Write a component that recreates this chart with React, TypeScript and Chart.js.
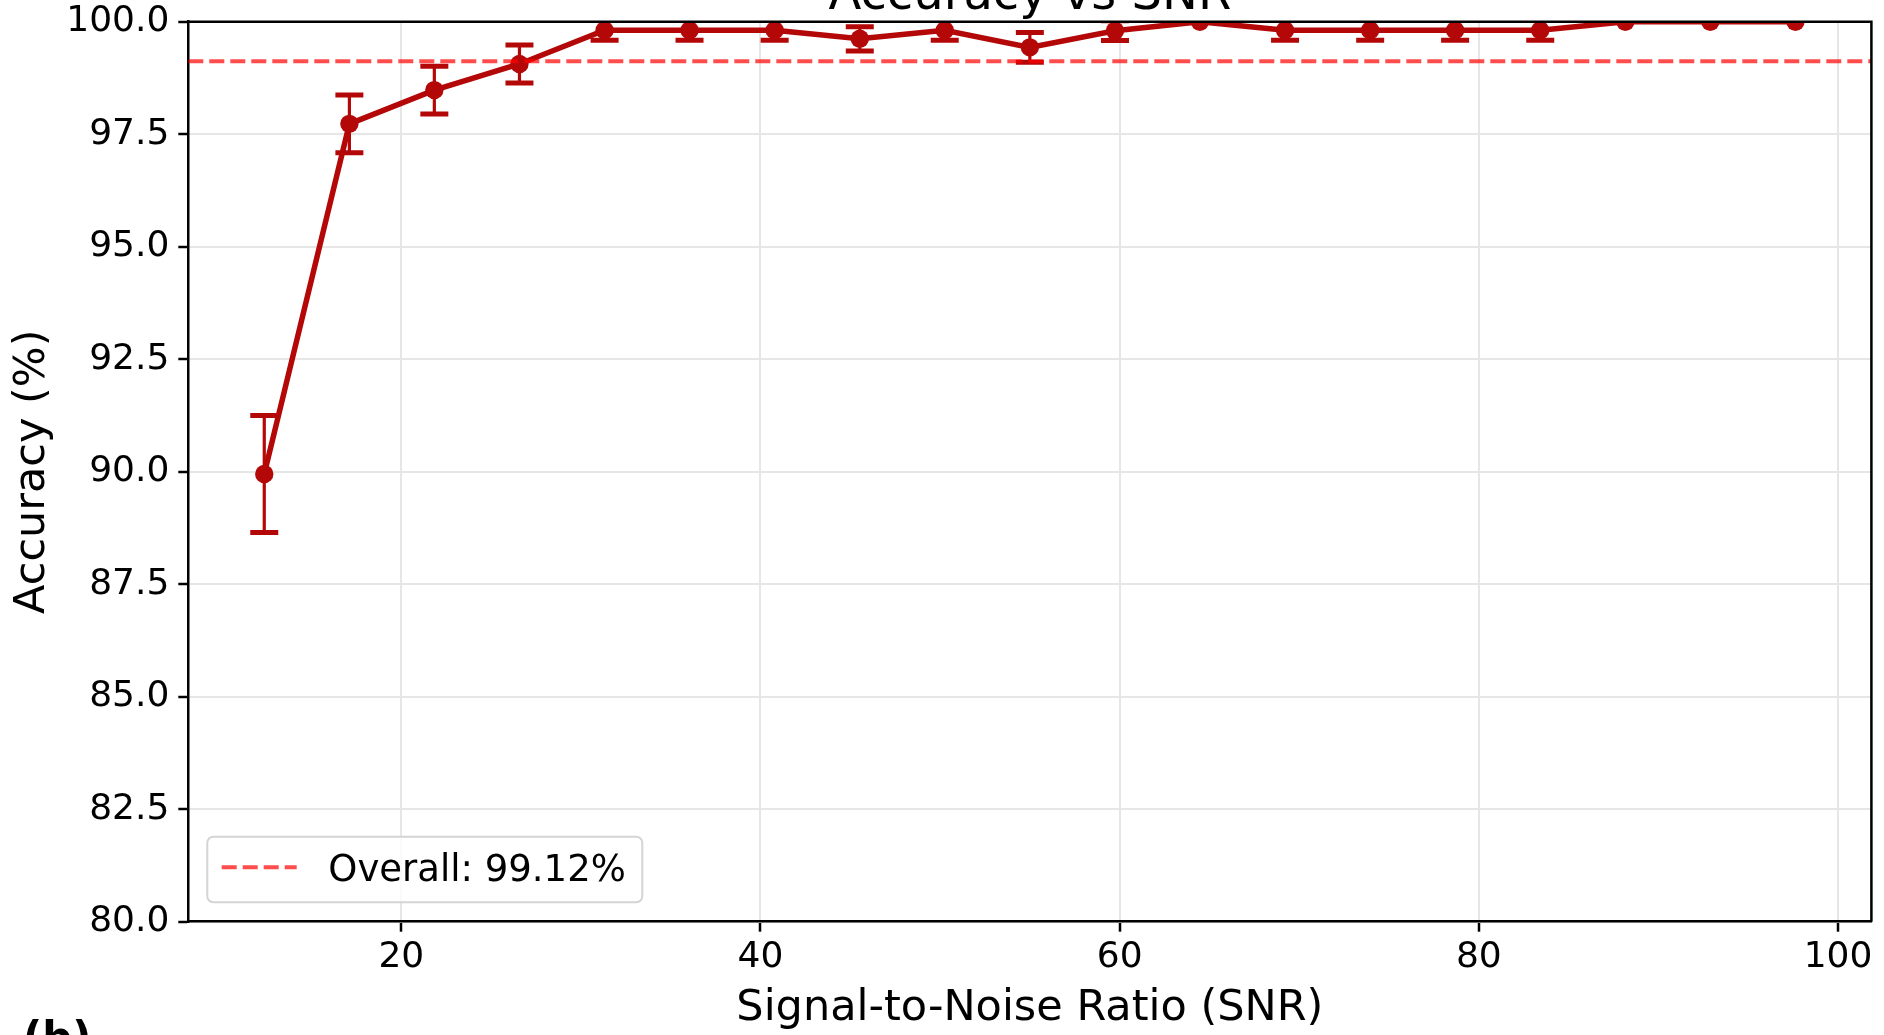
import React, { useEffect, useRef } from "react";
import { Chart, registerables } from "chart.js";

Chart.register(...registerables);

// ---- data ----
const SNR = [12.37, 17.11, 21.84, 26.58, 31.32, 36.05, 40.79, 45.53, 50.26, 55.0, 59.74, 64.47, 69.21, 73.95, 78.68, 83.42, 88.16, 92.89, 97.63];
const ACCURACY = [89.95, 97.73, 98.48, 99.06, 99.81, 99.81, 99.81, 99.62, 99.81, 99.43, 99.8, 100, 99.81, 99.81, 99.81, 99.81, 100, 100, 100];
const ACC_STD = [1.3, 0.64, 0.53, 0.42, 0.22, 0.22, 0.22, 0.27, 0.22, 0.33, 0.22, 0, 0.22, 0.22, 0.22, 0.22, 0, 0, 0];
const OVERALL = 99.12;
const X_TICKS = [20, 40, 60, 80, 100];
const X_RANGE = [8.14, 101.86];
const Y_RANGE = [80, 100];
const Y_STEP = 2.5;

const TITLE = "Accuracy vs SNR";
const X_LABEL = "Signal-to-Noise Ratio (SNR)";
const Y_LABEL = "Accuracy (%)";
const PANEL_LABEL = "(b)";

// ---- styles ----
const FONT = '"DejaVu Sans", "Liberation Sans", sans-serif';
const LINE_COLOR = "rgb(180,8,8)";
const OVERALL_COLOR = "rgba(255,0,0,0.7)";
const GRID_COLOR = "#e6e6e6";
const DASH = [15, 6];

const errorBarPlugin = {
  id: "errorBars",
  beforeDatasetsDraw(chart: any) {
    const { ctx, chartArea, scales } = chart;
    ctx.save();
    ctx.beginPath();
    ctx.rect(chartArea.left, chartArea.top, chartArea.right - chartArea.left, chartArea.bottom - chartArea.top);
    ctx.clip();
    ctx.strokeStyle = LINE_COLOR;
    SNR.forEach((x, i) => {
      const s = ACC_STD[i];
      if (!s) return;
      const px = scales.x.getPixelForValue(x);
      const y1 = scales.y.getPixelForValue(ACCURACY[i] + s);
      const y2 = scales.y.getPixelForValue(ACCURACY[i] - s);
      ctx.lineWidth = 3.2;
      ctx.beginPath();
      ctx.moveTo(px, y1);
      ctx.lineTo(px, y2);
      ctx.stroke();
      ctx.lineWidth = 5;
      ctx.beginPath();
      ctx.moveTo(px - 14, y1);
      ctx.lineTo(px + 14, y1);
      ctx.moveTo(px - 14, y2);
      ctx.lineTo(px + 14, y2);
      ctx.stroke();
    });
    ctx.restore();
  },
};

const decorPlugin = {
  id: "decor",
  afterDatasetsDraw(chart: any) {
    const { ctx, chartArea } = chart;
    ctx.save();
    ctx.strokeStyle = "#000";
    ctx.lineWidth = 2.5;
    ctx.beginPath();
    ctx.moveTo(chartArea.left, chartArea.top);
    ctx.lineTo(chartArea.right, chartArea.top);
    ctx.lineTo(chartArea.right, chartArea.bottom);
    ctx.stroke();
    ctx.restore();
  },
  afterDraw(chart: any) {
    const { ctx, chartArea } = chart;
    const cx = (chartArea.left + chartArea.right) / 2;
    const cy = (chartArea.top + chartArea.bottom) / 2;
    ctx.save();
    ctx.fillStyle = "#000";

    // title
    ctx.font = `48px ${FONT}`;
    ctx.textAlign = "center";
    ctx.textBaseline = "alphabetic";
    ctx.fillText(TITLE, cx, 9);

    // x label
    ctx.font = `43px ${FONT}`;
    ctx.fillText(X_LABEL, cx, 1020);

    // y label
    ctx.save();
    ctx.translate(44, cy);
    ctx.rotate(-Math.PI / 2);
    ctx.fillText(Y_LABEL, 0, 0);
    ctx.restore();

    // panel label
    ctx.font = `bold 42px ${FONT}`;
    ctx.textAlign = "left";
    ctx.fillText(PANEL_LABEL, 23, 1052);

    // legend
    const ds = chart.data.datasets[0];
    const bx = chartArea.left + 19;
    const by = chartArea.bottom - 85;
    const bw = 435;
    const bh = 65.6;
    const r = 6;
    ctx.beginPath();
    ctx.moveTo(bx + r, by);
    ctx.lineTo(bx + bw - r, by);
    ctx.arcTo(bx + bw, by, bx + bw, by + r, r);
    ctx.lineTo(bx + bw, by + bh - r);
    ctx.arcTo(bx + bw, by + bh, bx + bw - r, by + bh, r);
    ctx.lineTo(bx + r, by + bh);
    ctx.arcTo(bx, by + bh, bx, by + bh - r, r);
    ctx.lineTo(bx, by + r);
    ctx.arcTo(bx, by, bx + r, by, r);
    ctx.closePath();
    ctx.fillStyle = "rgba(255,255,255,0.8)";
    ctx.fill();
    ctx.strokeStyle = "#d4d4d4";
    ctx.lineWidth = 2;
    ctx.stroke();

    ctx.strokeStyle = ds.borderColor;
    ctx.lineWidth = ds.borderWidth;
    ctx.setLineDash(DASH);
    ctx.beginPath();
    ctx.moveTo(bx + 14.4, by + 30.6);
    ctx.lineTo(bx + 89.4, by + 30.6);
    ctx.stroke();
    ctx.setLineDash([]);

    ctx.fillStyle = "#000";
    ctx.font = `37px ${FONT}`;
    ctx.textAlign = "left";
    ctx.textBaseline = "alphabetic";
    ctx.fillText(ds.label, bx + 121, by + 44.3);
    ctx.restore();
  },
};

export default function App() {
  const ref = useRef<HTMLCanvasElement | null>(null);

  useEffect(() => {
    document.body.style.margin = "0";
    document.body.style.overflow = "hidden";
    const canvas = ref.current;
    if (!canvas) return;

    const tickFont = { family: FONT, size: 36 };
    const gridCfg = {
      color: GRID_COLOR,
      lineWidth: 2,
      tickColor: "#000",
      tickWidth: 2.5,
      tickLength: 10,
      drawTicks: true,
    };

    const chart = new Chart(canvas, {
      type: "line",
      data: {
        datasets: [
          {
            label: `Overall: ${OVERALL.toFixed(2)}%`,
            data: X_RANGE.map((x) => ({ x, y: OVERALL })),
            borderColor: OVERALL_COLOR,
            borderWidth: 4,
            borderDash: DASH,
            pointRadius: 0,
            fill: false,
            clip: 0,
          },
          {
            label: "Accuracy",
            data: SNR.map((x, i) => ({ x, y: ACCURACY[i] })),
            borderColor: LINE_COLOR,
            backgroundColor: LINE_COLOR,
            borderWidth: 5.5,
            pointRadius: 9.2,
            pointBorderWidth: 0,
            pointBackgroundColor: LINE_COLOR,
            tension: 0,
            fill: false,
            clip: 0,
          },
        ],
      } as any,
      options: {
        animation: false,
        responsive: false,
        devicePixelRatio: 1,
        events: [],
        layout: { padding: { left: 0, top: 21.7, right: 12.6, bottom: 0 } },
        plugins: {
          legend: { display: false },
          tooltip: { enabled: false },
          title: { display: false },
        },
        scales: {
          x: {
            type: "linear",
            min: X_RANGE[0],
            max: X_RANGE[1],
            afterBuildTicks: (s: any) => {
              s.ticks = X_TICKS.map((v) => ({ value: v }));
            },
            afterFit: (s: any) => {
              s.height = 113.3;
              s.paddingLeft = 0;
              s.paddingRight = 0;
              s.paddingTop = 0;
              s.paddingBottom = 0;
            },
            grid: gridCfg,
            border: { display: true, color: "#000", width: 2.5 },
            ticks: {
              font: tickFont,
              color: "#000",
              padding: 4,
              maxRotation: 0,
              autoSkip: false,
              callback: (v: any) => String(v),
            },
          },
          y: {
            type: "linear",
            min: Y_RANGE[0],
            max: Y_RANGE[1],
            afterFit: (s: any) => {
              s.width = 188.3;
              s.paddingLeft = 0;
              s.paddingRight = 0;
              s.paddingTop = 0;
              s.paddingBottom = 0;
            },
            grid: gridCfg,
            border: { display: true, color: "#000", width: 2.5 },
            ticks: {
              stepSize: Y_STEP,
              font: tickFont,
              color: "#000",
              padding: 9,
              callback: (v: any) => Number(v).toFixed(1),
            },
          },
        },
      } as any,
      plugins: [errorBarPlugin, decorPlugin],
    });

    return () => chart.destroy();
  }, []);

  return (
    <canvas
      ref={ref}
      width={1884}
      height={1035}
      style={{ display: "block", width: "1884px", height: "1035px" }}
    />
  );
}
